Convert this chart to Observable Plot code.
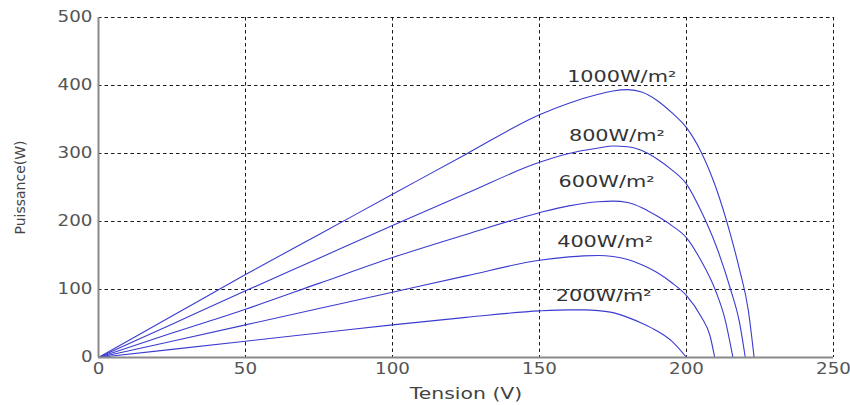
<!DOCTYPE html>
<html><head><meta charset="utf-8">
<script src="https://cdn.jsdelivr.net/npm/d3@7"></script>
<script src="https://cdn.jsdelivr.net/npm/@observablehq/plot@0.6"></script>
<style>html,body{margin:0;padding:0;background:#fff}</style>
</head><body><div id="chart"></div>
<script>
const xTicks = [0, 50, 100, 150, 200, 250];
const yTicks = [0, 100, 200, 300, 400, 500];
const irradiances = ["1000W/m²", "800W/m²", "600W/m²", "400W/m²", "200W/m²"];

const tension1000 = [0, 25, 50, 75, 100, 125, 150, 160, 170, 175, 180, 185, 190, 195, 200, 205, 210, 215, 218, 221, 223];
const puissance1000 = [0, 61, 122, 181, 240, 299, 357, 374, 387, 392, 394, 390, 378, 360, 338, 302, 250, 180, 130, 70, 0];

const tension800 = [0, 25, 50, 75, 100, 125, 150, 160, 170, 175, 180, 185, 190, 195, 200, 205, 210, 215, 218, 220];
const puissance800 = [0, 49, 98, 146, 194, 241, 287, 300, 308, 311, 310, 304, 292, 276, 255, 215, 165, 100, 52, 0];

const tension600 = [0, 25, 50, 75, 100, 125, 150, 160, 170, 175, 180, 185, 190, 195, 200, 205, 210, 213, 215.8];
const puissance600 = [0, 36, 71, 109, 147, 181, 213, 223, 229, 230, 228, 220, 208, 194, 176, 142, 97, 58, 0];

const tension400 = [0, 25, 50, 75, 100, 125, 150, 160, 165, 170, 175, 180, 185, 190, 195, 200, 205, 208, 209.6];
const puissance400 = [0, 24, 48, 72, 96, 120, 143, 148, 149.5, 150, 148.5, 144, 136, 125, 110, 91, 60, 32, 0];

const tension200 = [0, 25, 50, 75, 100, 125, 150, 160, 165, 170, 175, 180, 185, 190, 195, 200];
const puissance200 = [0, 12, 24, 36, 48, 59, 68.5, 70, 70, 69, 66, 59, 50, 39, 24, 0];

// label anchor positions in data units (left edge, vertical centre)
const labelTension = [159.4, 160, 156.5, 156, 155.5];
const labelPuissance = [413, 326, 259, 170, 90];

const tensions = [tension1000, tension800, tension600, tension400, tension200];
const puissances = [puissance1000, puissance800, puissance600, puissance400, puissance200];

const rows = [];
irradiances.forEach((s, i) => {
  tensions[i].forEach((v, j) => rows.push({s, v, p: puissances[i][j]}));
});
const labels = irradiances.map((s, i) => ({s, v: labelTension[i], p: labelPuissance[i]}));

const grid = {stroke: "#1a1a1a", strokeWidth: 1, strokeDasharray: "3.5,3"};

const chart = Plot.plot({
  width: 850,
  height: 405,
  marginLeft: 98,
  marginRight: 17,
  marginTop: 17,
  marginBottom: 48,
  x: {domain: [0, 250]},
  y: {domain: [0, 500]},
  style: {fontFamily: "DejaVu Sans", background: "#fff"},
  marks: [
    Plot.ruleX(xTicks.filter(d => d > 0), grid),
    Plot.ruleY(yTicks.filter(d => d > 0), grid),
    Plot.line(rows, {x: "v", y: "p", z: "s", stroke: "#3b3bd0", strokeWidth: 1.1, curve: "monotone-x"}),
    Plot.ruleX([0], {stroke: "#8a8a8a", strokeWidth: 2}),
    Plot.ruleY([0], {stroke: "#8a8a8a", strokeWidth: 2}),
    Plot.text(labels, {x: "v", y: "p", text: "s", textAnchor: "start", fontSize: 16, fill: "#333"}),
    Plot.axisX({ticks: xTicks, tickSize: 0, tickPadding: 6, fontSize: 15, color: "#555",
      label: "Tension (V)", labelAnchor: "center", labelArrow: "none", labelOffset: 41}),
    Plot.axisY({ticks: yTicks, tickSize: 0, tickPadding: 6, fontSize: 15, color: "#555",
      label: "Puissance(W)", labelAnchor: "center", labelArrow: "none", labelOffset: 83})
  ]
});

document.getElementById("chart").appendChild(chart);
const svg = d3.select(chart);
function stretch(sel, k) {
  sel.each(function () {
    const len = this.getComputedTextLength();
    if (len > 0) {
      this.setAttribute("textLength", (len * k).toFixed(1));
      this.setAttribute("lengthAdjust", "spacingAndGlyphs");
    }
  });
}
stretch(svg.selectAll('[aria-label="x-axis tick label"] text, [aria-label="y-axis tick label"] text'), 1.22);
svg.selectAll('[aria-label="x-axis label"] text').style("font-size", "15px").style("fill", "#444");
stretch(svg.selectAll('[aria-label="x-axis label"] text'), 1.36);
svg.selectAll('[aria-label="y-axis label"] text').style("font-size", "14px").style("fill", "#444");
stretch(svg.selectAll('g[aria-label="text"] text'), 1.3);
</script>
</body></html>
